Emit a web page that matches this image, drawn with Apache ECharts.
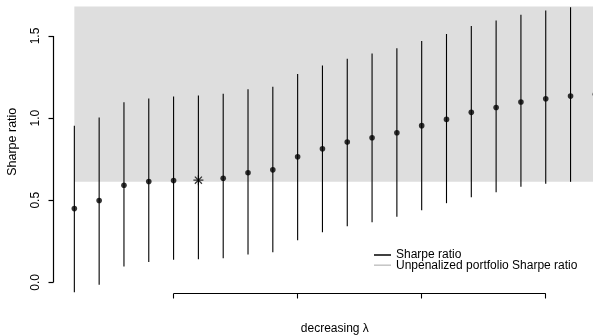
<!DOCTYPE html>
<html>
<head>
<meta charset="utf-8">
<script src="https://cdn.jsdelivr.net/npm/echarts@6/dist/echarts.min.js"></script>
<style>html,body{margin:0;padding:0;background:#fff;}#c{width:593px;height:335px;}</style>
</head>
<body>
<div id="c"></div>
<script>
// ---- data ----
const steps = [1,2,3,4,5,6,7,8,9,10,11,12,13,14,15,16,17,18,19,20,21,22];
const sharpe = [0.449,0.498,0.591,0.614,0.620,0.622,0.634,0.667,0.685,0.765,0.813,0.854,0.880,0.911,0.954,0.992,1.035,1.065,1.098,1.118,1.134,1.145];
const lower  = [-0.061,-0.014,0.096,0.124,0.137,0.140,0.146,0.169,0.183,0.256,0.305,0.341,0.366,0.399,0.439,0.482,0.518,0.549,0.582,0.600,0.612,0.620];
const upper  = [0.954,1.004,1.096,1.120,1.132,1.137,1.149,1.175,1.191,1.268,1.321,1.362,1.393,1.425,1.470,1.512,1.561,1.594,1.630,1.655,1.675,1.690];
const starStep = 6;
const unpenalizedBand = [0.612, 1.679];
const xTicks = [5,10,15,20];
const yTicks = [0,0.5,1,1.5];
const yTickLabels = ['0.0','0.5','1.0','1.5'];
const xRange = [0.16, 22.84];
const yRange = [-0.068, 1.78];

const FONT = 'Liberation Sans, Arial, Helvetica, sans-serif';
const chart = echarts.init(document.getElementById('c'), null, {renderer:'canvas'});

const dotData = steps.map((s,i)=>[s, sharpe[i]]).filter(d=>d[0]!==starStep);
const starData = [[starStep, sharpe[steps.indexOf(starStep)]]];
const barData = steps.map((s,i)=>[s, lower[i], upper[i]]);
// R-style axis lines: only span first..last tick
const axisSegs = [
  [xRange[0], yTicks[0], xRange[0], yTicks[yTicks.length-1]],
  [xTicks[0], yRange[0], xTicks[xTicks.length-1], yRange[0]]
];

chart.setOption({
  animation:false,
  backgroundColor:'#fff',
  grid:{left:53.5, right:-23.2, top:-10, bottom:41.5, outerBoundsMode:'none'},
  xAxis:{
    type:'value', min:xRange[0], max:xRange[1],
    axisLine:{show:false, onZero:false},
    splitLine:{show:false},
    axisTick:{show:true, customValues:xTicks, length:5, lineStyle:{color:'#000', width:1.1}},
    axisLabel:{show:false},
    name:'decreasing λ', nameLocation:'middle', nameGap:29,
    nameTextStyle:{fontFamily:FONT, fontSize:12, color:'#000'}
  },
  yAxis:{
    type:'value', min:yRange[0], max:yRange[1],
    axisLine:{show:false, onZero:false},
    splitLine:{show:false},
    axisTick:{show:true, customValues:yTicks, length:5, lineStyle:{color:'#000', width:1.2}},
    axisLabel:{show:true, customValues:yTicks, rotate:90, margin:12,
      formatter:(v)=>yTickLabels[yTicks.indexOf(v)] ?? v.toFixed(1),
      fontFamily:FONT, fontSize:12, color:'#000'},
    name:'Sharpe ratio', nameLocation:'middle', nameGap:34, nameRotate:90,
    nameTextStyle:{fontFamily:FONT, fontSize:12.5, color:'#000'}
  },
  legend:{
    orient:'vertical', left:369, top:244, itemGap:-1.8,
    itemWidth:17, itemHeight:1.5,
    textStyle:{fontFamily:FONT, fontSize:12, color:'#000'},
    data:[
      {name:'Sharpe ratio', icon:'rect', itemStyle:{color:'#000'}},
      {name:'Unpenalized portfolio Sharpe ratio', icon:'rect', itemStyle:{color:'#c4c4c4'}}
    ]
  },
  series:[
    {
      name:'Unpenalized portfolio Sharpe ratio', type:'line', data:[], silent:true,
      itemStyle:{color:'#c4c4c4'}, lineStyle:{color:'#c4c4c4'},
      markArea:{silent:true, itemStyle:{color:'#dedede'},
        data:[[{coord:[steps[0], unpenalizedBand[0]]},{coord:[steps[steps.length-1], unpenalizedBand[1]]}]]}
    },
    {
      name:'axes', type:'custom', silent:true, clip:false, z:5,
      data:axisSegs,
      encode:{x:[0,2], y:[1,3]},
      renderItem:(params, api)=>{
        const a = api.coord([api.value(0), api.value(1)]);
        const b = api.coord([api.value(2), api.value(3)]);
        return {type:'line', shape:{x1:a[0], y1:a[1], x2:b[0], y2:b[1]}, style:{stroke:'#000', lineWidth:1.2}};
      }
    },
    {
      name:'Sharpe ratio', type:'custom', silent:true, clip:false, z:3,
      itemStyle:{color:'#000'},
      data:barData,
      encode:{x:0, y:[1,2]},
      renderItem:(params, api)=>{
        const lo = api.coord([api.value(0), api.value(1)]);
        const hi = api.coord([api.value(0), api.value(2)]);
        return {type:'line', shape:{x1:lo[0], y1:lo[1], x2:hi[0], y2:hi[1]}, style:{stroke:'#000', lineWidth:1.1}};
      }
    },
    {
      name:'points', type:'scatter', silent:true, z:4,
      symbol:'circle', symbolSize:5.6, itemStyle:{color:'#000'},
      data:dotData
    },
    {
      name:'star', type:'scatter', silent:true, z:4,
      symbol:'path://M0,5L10,5M5,0L5,10M1.46,1.46L8.54,8.54M1.46,8.54L8.54,1.46',
      symbolSize:10,
      itemStyle:{color:'none', borderColor:'#000', borderWidth:1.2},
      data:starData
    }
  ]
});
</script>
</body>
</html>
